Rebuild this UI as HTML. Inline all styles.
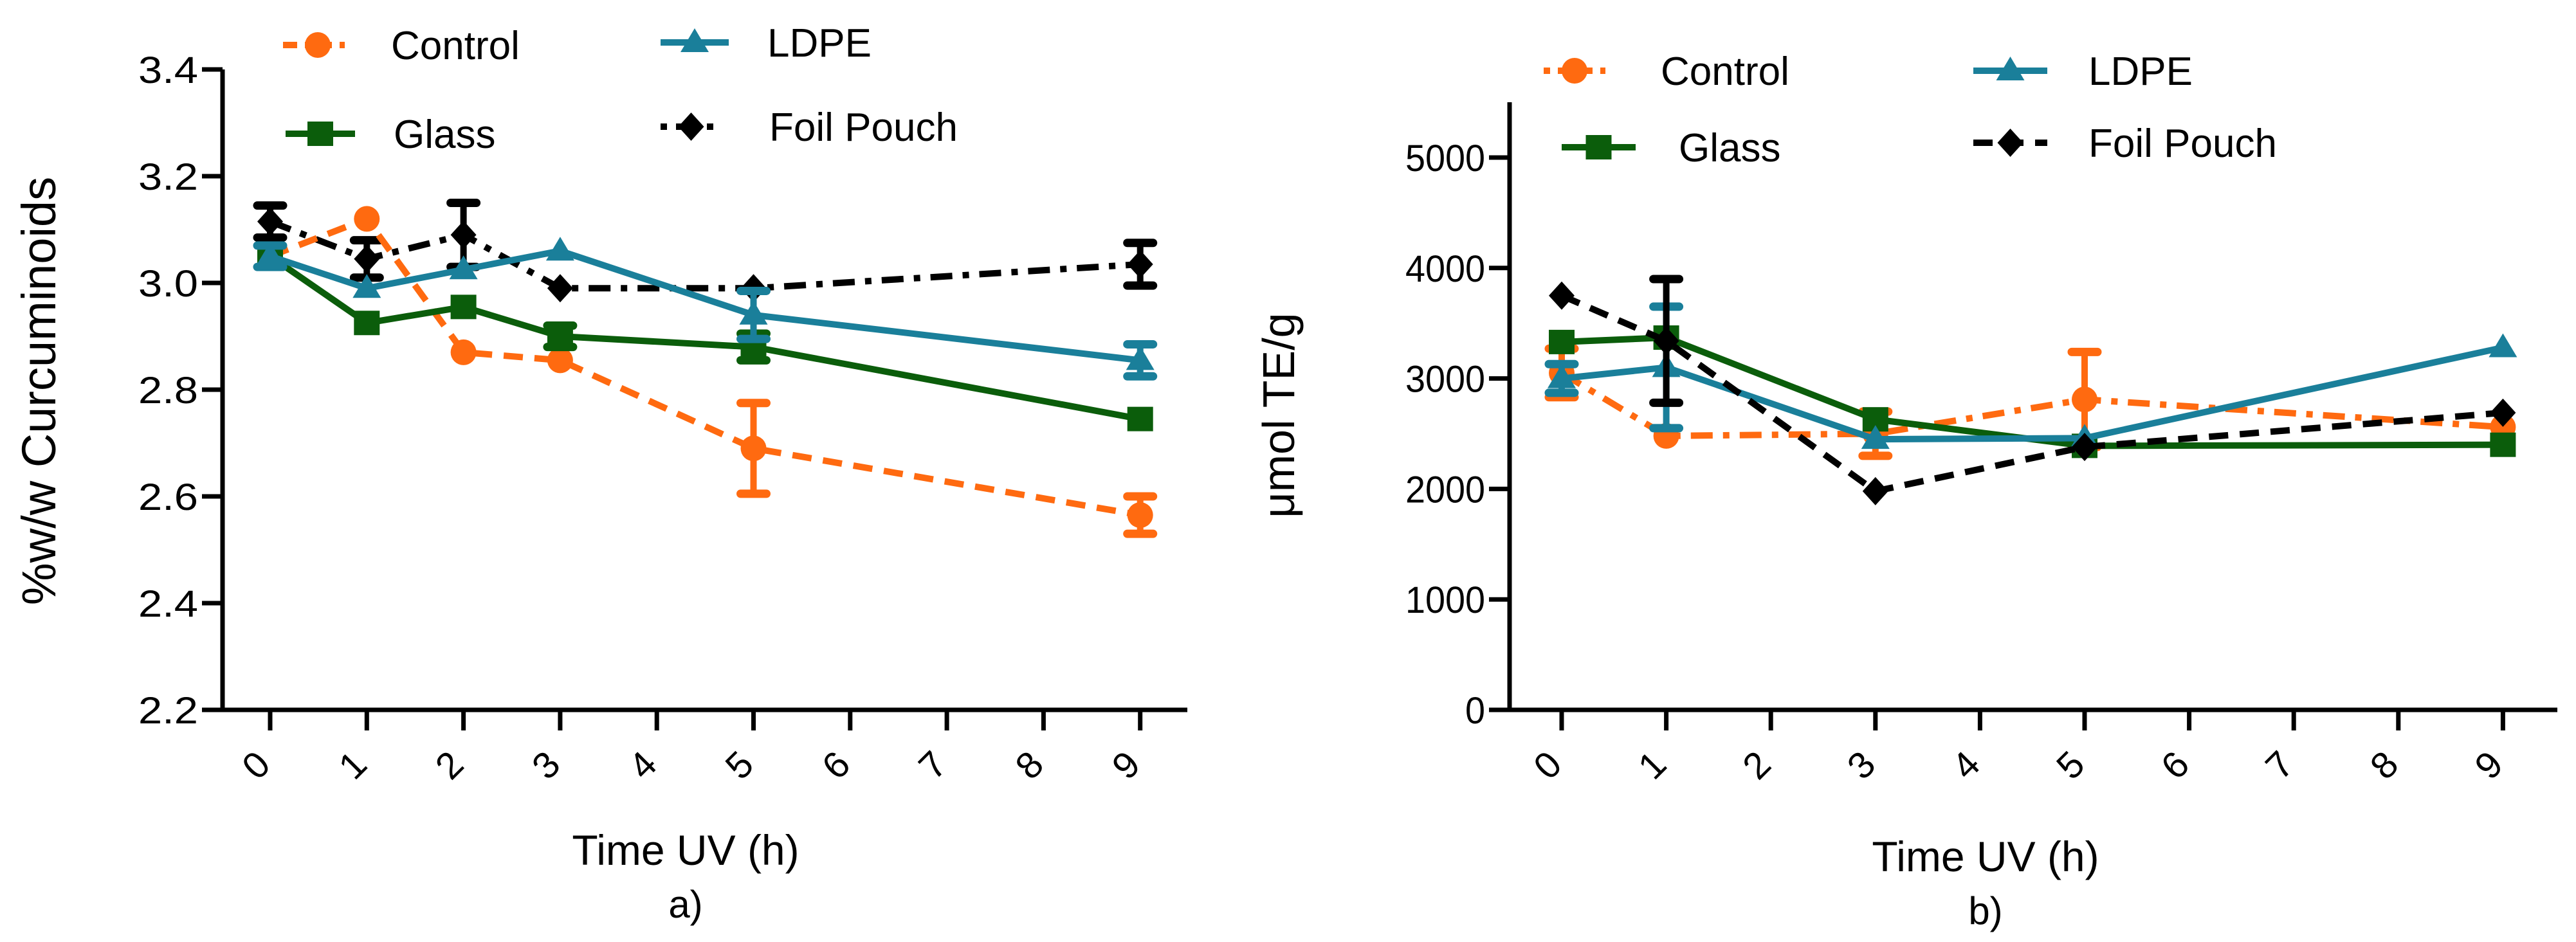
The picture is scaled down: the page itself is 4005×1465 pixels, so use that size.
<!DOCTYPE html>
<html><head><meta charset="utf-8"><style>
html,body{margin:0;padding:0;background:#fff}
svg{display:block}
text{font-family:"Liberation Sans",sans-serif;fill:#000}
</style></head><body>
<svg id="c" width="4005" height="1465" viewBox="0 0 4005 1465" xmlns="http://www.w3.org/2000/svg"></svg>
<script>
const hours = [0, 1, 2, 3, 5, 9];
const hoursB = [0, 1, 3, 5, 9];
const xTicks = [0,1,2,3,4,5,6,7,8,9];
const seriesNames = ["Control","Glass","LDPE","Foil Pouch"];
// panel a
const aControl = [3.05, 3.12, 2.87, 2.855, 2.69, 2.565];
const aControlErr = [0, 0, 0, 0, 0.085, 0.035];
const aGlass = [3.05, 2.925, 2.955, 2.90, 2.88, 2.745];
const aGlassErr = [0, 0, 0, 0.02, 0.025, 0];
const aLDPE = [3.05, 2.99, 3.025, 3.06, 2.94, 2.855];
const aLDPEErr = [0.02, 0, 0, 0, 0.045, 0.03];
const aFoil = [3.115, 3.045, 3.09, 2.99, 2.99, 3.035];
const aFoilErr = [0.03, 0.035, 0.06, 0, 0, 0.04];
const aYTicks = [2.2, 2.4, 2.6, 2.8, 3.0, 3.2, 3.4];
const aYLabels = ["2.2","2.4","2.6","2.8","3.0","3.2","3.4"];
// panel b
const bControl = [3050, 2480, 2500, 2810, 2560];
const bControlErr = [220, 0, 200, 430, 0];
const bGlass = [3330, 3370, 2630, 2390, 2400];
const bGlassErr = [0, 0, 0, 0, 0];
const bLDPE = [3000, 3100, 2450, 2460, 3280];
const bLDPEErr = [130, 550, 0, 0, 0];
const bFoil = [3750, 3340, 1980, 2380, 2690];
const bFoilErr = [0, 560, 0, 0, 0];
const bYTicks = [0, 1000, 2000, 3000, 4000, 5000];
const bYLabels = ["0","1000","2000","3000","4000","5000"];

const NS="http://www.w3.org/2000/svg";
const svg=document.getElementById('c');
function mk(tag,attrs,parent){const e=document.createElementNS(NS,tag);for(const k in attrs)e.setAttribute(k,attrs[k]);(parent||svg).appendChild(e);return e;}
const COL={Control:"#ff6a10",Glass:"#0b5d0b",LDPE:"#1a7f9a","Foil Pouch":"#000"};

function marker(g,type,x,y,color){
  let e;
  if(type==="circle") e=mk('circle',{cx:x,cy:y,r:20,fill:color},g);
  else if(type==="square") e=mk('rect',{x:x-20,y:y-19,width:40,height:38,fill:color},g);
  else if(type==="tri") e=mk('polygon',{points:`${x},${y-22} ${x+22},${y+15} ${x-22},${y+15}`,fill:color},g);
  else e=mk('polygon',{points:`${x},${y-22} ${x+20},${y} ${x},${y+22} ${x-20},${y}`,fill:color},g);
  return e;
}

function panel(cfg){
  const g=mk('g',{});
  
  
  const X=v=>cfg.x0+(v-0)*cfg.xu;
  const Y=v=>cfg.yBot-(v-cfg.yMin)/(cfg.yMax-cfg.yMin)*(cfg.yBot-cfg.yTop);
  const ya=mk('line',{x1:cfg.ax,y1:cfg.axTop,x2:cfg.ax,y2:cfg.yBot,stroke:"#000","stroke-width":7},g);
  
  const xa=mk('line',{x1:cfg.ax-32,y1:cfg.yBot,x2:cfg.axRight,y2:cfg.yBot,stroke:"#000","stroke-width":7},g);
  
  cfg.yTicks.forEach((t,i)=>{
    const y=Y(t);
    mk('line',{x1:cfg.ax-32,y1:y,x2:cfg.ax,y2:y,stroke:"#000","stroke-width":7},g);
    const tx=mk('text',{x:cfg.ax-38,y:y+21,"text-anchor":"end","font-size":58,textLength:cfg.yLabels[i].length*31,lengthAdjust:"spacingAndGlyphs"},g);
    tx.textContent=cfg.yLabels[i];
    
  });
  xTicks.forEach(t=>{
    const x=X(t);
    mk('line',{x1:x,y1:cfg.yBot,x2:x,y2:cfg.yBot+32,stroke:"#000","stroke-width":7},g);
    const tx=mk('text',{x:0,y:0,"text-anchor":"middle","font-size":58,transform:`translate(${x-8},${cfg.yBot+100}) rotate(-45)`},g);
    tx.textContent=String(t);
    
  });
  const types={Control:"circle",Glass:"square",LDPE:"tri","Foil Pouch":"diamond"};
  cfg.order.forEach(n=>{
    const s=cfg.series[n];
    const sg=mk('g',{},g);
    
    
    const pts=s.v.map((v,i)=>X(cfg.xs[i])+","+Y(v)).join(" ");
    mk('polyline',{points:pts,fill:"none",stroke:COL[n],"stroke-width":10,"stroke-dasharray":cfg.dash[n]},sg);
    s.v.forEach((v,i)=>{
      const e=s.e[i];
      if(e>0){
        const x=X(cfg.xs[i]);
        mk('line',{x1:x,y1:Y(v-e),x2:x,y2:Y(v+e),stroke:COL[n],"stroke-width":10},sg);
        mk('line',{x1:x-20,y1:Y(v+e),x2:x+20,y2:Y(v+e),stroke:COL[n],"stroke-width":13,"stroke-linecap":"round"},sg);
        mk('line',{x1:x-20,y1:Y(v-e),x2:x+20,y2:Y(v-e),stroke:COL[n],"stroke-width":13,"stroke-linecap":"round"},sg);
      }
      const m=marker(sg,types[n],X(cfg.xs[i]),Y(v),COL[n]);
      
      
    });
  });
  cfg.legend.forEach(L=>{
    const lg=mk('g',{},g);
    
    
    mk('line',{x1:L.x1,y1:L.y,x2:L.x2,y2:L.y,stroke:COL[L.n],"stroke-width":10,"stroke-dasharray":cfg.ldash[L.n]},lg);
    marker(lg,types[L.n],(L.x1+L.x2)/2,L.y,COL[L.n]);
    const t=mk('text',{x:L.tx,y:L.y+22,"font-size":62},lg);
    t.textContent=L.n;
  });
  const xt=mk('text',{x:cfg.xTitleX,y:cfg.xTitleY,"text-anchor":"middle","font-size":66},g);
  xt.textContent="Time UV (h)";
  const pl=mk('text',{x:cfg.xTitleX,y:cfg.xTitleY+82,"text-anchor":"middle","font-size":60},g);
  pl.textContent=cfg.label;
  const yt=mk('text',{x:0,y:0,"text-anchor":"middle","font-size":cfg.yTitleSize,transform:`translate(${cfg.yTitleX},${cfg.yTitleY}) rotate(-90)`},g);
  yt.textContent=cfg.yTitle;
}

panel({name:'panel-a',x0:420,xu:150.3,ax:346,axTop:108,axRight:1846,yTop:108,yBot:1104,yMin:2.2,yMax:3.4,
  yTicks:aYTicks,yLabels:aYLabels,xs:hours,
  series:{Control:{v:aControl,e:aControlErr},Glass:{v:aGlass,e:aGlassErr},LDPE:{v:aLDPE,e:aLDPEErr},"Foil Pouch":{v:aFoil,e:aFoilErr}},
  order:["Foil Pouch","Control","Glass","LDPE"],
  dash:{Control:"30 18",Glass:"none",LDPE:"none","Foil Pouch":"34 16 10 16"},
  ldash:{Control:"22 12 8 12",Glass:"none",LDPE:"none","Foil Pouch":"10 14"},
  legend:[{n:"Control",x1:440,x2:548,y:70,tx:608},{n:"LDPE",x1:1027,x2:1133,y:66,tx:1193},{n:"Glass",x1:444,x2:552,y:208,tx:612},{n:"Foil Pouch",x1:1027,x2:1122,y:197,tx:1196}],
  xTitleX:1066,xTitleY:1345,label:"a)",yTitle:"%w/w Curcuminoids",yTitleSize:74,yTitleX:86,yTitleY:608});

panel({name:'panel-b',x0:2428,xu:162.6,ax:2347,axTop:159,axRight:3976,yTop:245,yBot:1104,yMin:0,yMax:5000,
  yTicks:bYTicks,yLabels:bYLabels,xs:hoursB,
  series:{Control:{v:bControl,e:bControlErr},Glass:{v:bGlass,e:bGlassErr},LDPE:{v:bLDPE,e:bLDPEErr},"Foil Pouch":{v:bFoil,e:bFoilErr}},
  order:["Control","Glass","LDPE","Foil Pouch"],
  dash:{Control:"34 16 10 16",Glass:"none",LDPE:"none","Foil Pouch":"30 18"},
  ldash:{Control:"10 12",Glass:"none",LDPE:"none","Foil Pouch":"30 18"},
  legend:[{n:"Control",x1:2400,x2:2496,y:110,tx:2582},{n:"LDPE",x1:3068,x2:3183,y:110,tx:3247},{n:"Glass",x1:2428,x2:2543,y:229,tx:2610},{n:"Foil Pouch",x1:3068,x2:3183,y:222,tx:3247}],
  xTitleX:3087,xTitleY:1355,label:"b)",yTitle:"μmol TE/g",yTitleSize:70,yTitleX:2012,yTitleY:646});
</script>
</body></html>
